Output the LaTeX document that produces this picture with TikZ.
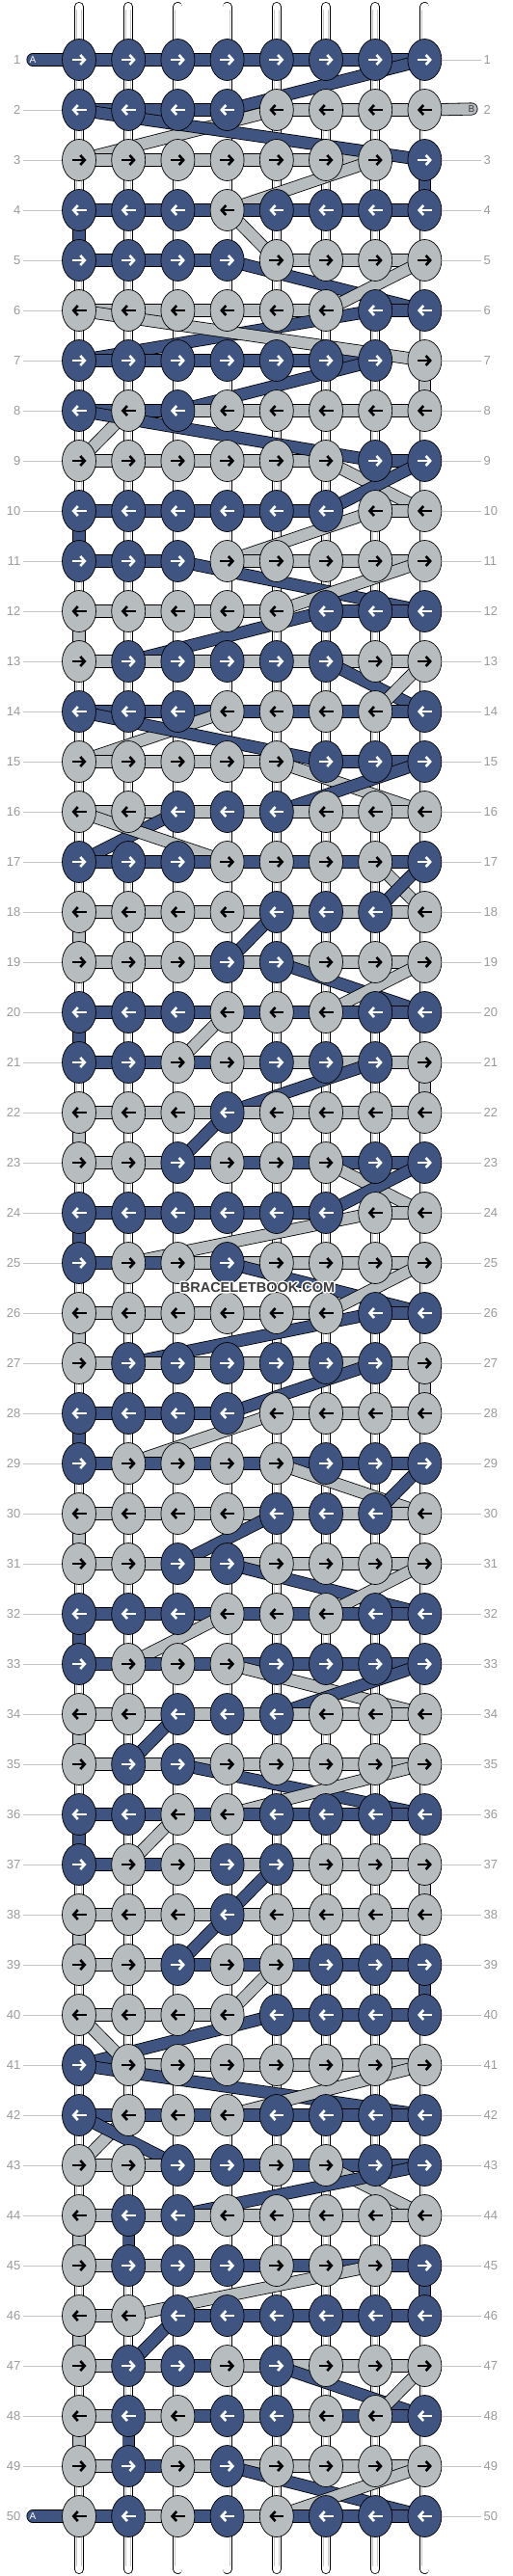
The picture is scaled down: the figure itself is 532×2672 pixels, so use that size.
\documentclass[tikz,border=0pt]{standalone}
\usepackage{fontspec}
\setmainfont{Liberation Sans}
\usepackage{tikz}
\usetikzlibrary{shapes.geometric,arrows.meta}
\pgfdeclarelayer{stringlayer}
\pgfdeclarelayer{edgelayer}
\pgfsetlayers{stringlayer,edgelayer,main}

\definecolor{colA}{HTML}{3F5480}
\definecolor{colB}{HTML}{B7BCBE}
\definecolor{numgray}{HTML}{9A9A9A}
\definecolor{rulegray}{HTML}{C4C4C4}
\definecolor{markgray}{HTML}{3C3C3C}

\tikzset{
  knot1/.style={ellipse, draw=black, line width=0.7pt, fill=colA, minimum width=35pt, minimum height=43pt, inner sep=0pt},
  knot0/.style={knot1, fill=colB},
  str1/.style={draw=black, line width=0.8pt, double=colA, double distance=11.5pt, line cap=round},
  str0/.style={str1, double=colB},
  core/.style={draw=black, line width=0.8pt, double=white, double distance=8.4pt, line cap=round},
  tip1/.style={white, line width=2.6pt, -{Straight Barb[length=4.5pt,width=10pt]}},
  tip0/.style={tip1, black},
  rownum/.style={text=numgray, inner sep=2.5pt, font=\fontsize{13}{13}\selectfont},
  rowline/.style={draw=rulegray, line width=0.8pt},
  tailtext/.style={inner sep=0pt, font=\fontsize{10}{10}\selectfont},
}

% white halo behind the site name
\newcommand\halotext[1]{%
  \makebox[0pt][l]{\special{pdf:literal direct 1 Tr 1 1 1 RG 3 w 1 j}#1\special{pdf:literal direct 0 Tr}}#1}

% 1 = colour A (blue), 0 = colour B (grey), left to right
\def\knotrows{%
{1,1,1,1,1,1,1,1},{1,1,1,1,0,0,0,0},{0,0,0,0,0,0,0,1},{1,1,1,0,1,1,1,1},%
{1,1,1,1,0,0,0,0},{0,0,0,0,0,0,1,1},{1,1,1,1,1,1,1,0},{1,0,1,0,0,0,0,0},%
{0,0,0,0,0,0,1,1},{1,1,1,1,1,1,0,0},{1,1,1,0,0,0,0,0},{0,0,0,0,0,1,1,1},%
{0,1,1,1,1,1,0,0},{1,1,1,0,0,0,0,1},{0,0,0,0,0,1,1,1},{0,0,1,1,1,0,0,0},%
{1,1,1,0,0,0,0,1},{0,0,0,0,1,1,1,0},{0,0,0,1,1,0,0,0},{1,1,1,0,0,0,1,1},%
{1,1,0,0,1,1,1,0},{0,0,0,1,0,0,0,0},{0,0,1,0,0,0,1,1},{1,1,1,1,1,1,0,0},%
{1,0,0,1,0,0,0,0},{0,0,0,0,0,0,1,1},{0,1,1,1,1,1,1,0},{1,1,1,1,0,0,0,0},%
{1,0,0,0,0,1,1,1},{0,0,0,0,1,1,1,0},{0,0,1,1,0,0,0,0},{1,1,1,0,0,0,1,1},%
{1,0,0,0,1,1,1,1},{0,0,1,1,1,0,0,0},{0,1,1,0,0,0,0,0},{1,1,0,0,1,1,1,1},%
{1,0,0,1,1,0,0,0},{0,0,0,1,0,0,0,0},{0,0,1,0,0,1,1,1},{0,0,0,0,1,1,1,1},%
{1,0,0,0,0,0,0,0},{1,0,0,0,1,1,1,1},{0,0,1,1,0,0,1,1},{0,1,1,0,0,0,0,0},%
{0,1,1,1,0,0,0,1},{0,0,1,1,1,1,1,1},{0,1,1,0,1,0,0,0},{0,1,0,1,1,0,0,1},%
{0,1,0,1,0,0,0,0},{0,1,0,1,0,1,1,1}}

\begin{document}
\begin{tikzpicture}[x=1pt, y=-1pt]
\useasboundingbox (0,0) rectangle (532,2672);

% the eight core strings
\begin{pgfonlayer}{stringlayer}
\foreach \c in {1,...,8}{
  \pgfmathsetmacro{\cx}{82+(\c-1)*51.2}
  \draw[core] (\cx,7) -- (\cx,2665);
  \draw[gray!45, line width=6pt] (\cx,10) -- (\cx,2662);
  \draw[white, line width=4.4pt] (\cx,10) -- (\cx,2662);
}
\end{pgfonlayer}

% knots
\foreach \row [count=\r] in \knotrows {
  \pgfmathsetmacro{\ry}{62+(\r-1)*52}
  \foreach \v [count=\c] in \row {
    \pgfmathsetmacro{\cx}{82+(\c-1)*51.2}
    \expandafter\xdef\csname kc-\r-\c\endcsname{\v}
    \node[knot\v] (k-\r-\c) at (\cx,\ry) {};
    \ifodd\r
      \draw[tip\v] ([xshift=-7.5pt]k-\r-\c.center) -- ([xshift=7.5pt]k-\r-\c.center);
    \else
      \draw[tip\v] ([xshift=7.5pt]k-\r-\c.center) -- ([xshift=-7.5pt]k-\r-\c.center);
    \fi
  }
}

% working strings, in knotting order
\coordinate (tailA) at (34,62);
\coordinate (tailB) at (489,113);
\coordinate (tailZ) at (34,2610);
\gdef\lastA{tailA}\gdef\lastB{tailB}
\begin{pgfonlayer}{edgelayer}
\foreach \r in {1,...,50}{
  \foreach \k in {1,...,8}{
    \ifodd\r \edef\c{\k}\else \pgfmathtruncatemacro{\c}{9-\k}\fi
    \ifnum\csname kc-\r-\c\endcsname=1
      \draw[str1] (\lastA) -- (k-\r-\c.center);
      \xdef\lastA{k-\r-\c.center}
    \else
      \draw[str0] (\lastB) -- (k-\r-\c.center);
      \xdef\lastB{k-\r-\c.center}
    \fi
  }
}
\draw[str1] (\lastA) -- (tailZ);
\end{pgfonlayer}

\node[tailtext, text=white] (labA) at (tailA) {A};
\node[tailtext, text=markgray] (labB) at (tailB) {B};
\node[tailtext, text=white] (labZ) at (tailZ) {A};

% row numbers
\foreach \r in {1,...,50}{
  \pgfmathsetmacro{\ry}{62+(\r-1)*52}
  \node[rownum, anchor=east] (nl-\r) at (24,\ry) {\r};
  \node[rownum, anchor=west] (nr-\r) at (499,\ry) {\r};
  \ifnum\r=1 \else\ifnum\r=50 \else
    \draw[rowline] (nl-\r) -- (k-\r-1);
  \fi\fi
  \ifnum\r=2 \else
    \draw[rowline] (k-\r-8) -- (nr-\r);
  \fi
}

\node[text=markgray, font=\bfseries\fontsize{14.5}{14.5}\selectfont] (mark) at (267,1335) {\halotext{BRACELETBOOK.COM}};
\end{tikzpicture}
\end{document}
